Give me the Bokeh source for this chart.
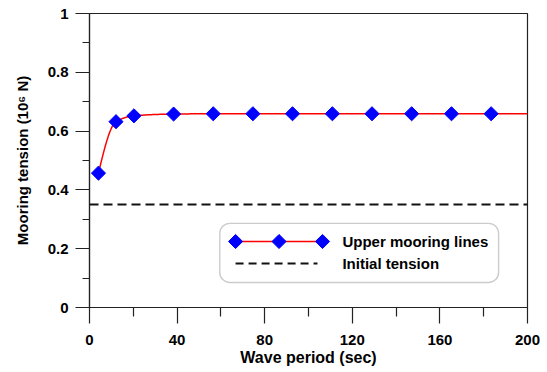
import numpy as np
from bokeh.plotting import figure
from bokeh.models import FixedTicker, BoxAnnotation, Label, Range1d, Span
from bokeh.embed import file_html
from bokeh.resources import INLINE

# Wave period (s) versus upper mooring line tension (10^6 N)
period = [4.1, 12.1, 20.3, 38.4, 56.5, 74.6, 92.7, 110.9, 129.0, 147.1, 165.3, 183.4]
tension = [0.457, 0.632, 0.652, 0.658, 0.659, 0.659, 0.659, 0.659, 0.659, 0.659, 0.659, 0.659]
initial_tension = 0.35

x_ticks = [0, 40, 80, 120, 160, 200]
x_minor = [20, 60, 100, 140, 180]
y_ticks = [0, 0.2, 0.4, 0.6, 0.8, 1.0]
y_minor = [0.1, 0.3, 0.5, 0.7, 0.9]
y_tick_labels = ["0", "0.2", "0.4", "0.6", "0.8", "1"]

FONT = "Liberation Sans"
RED = "#FF0000"
BLUE = "#0000FF"
INK = "#000000"


def monotone_curve(x, y, n=400):
    """Monotone cubic (Fritsch-Carlson) connector through the points."""
    x = np.asarray(x, float)
    y = np.asarray(y, float)
    h = np.diff(x)
    d = np.diff(y) / h
    m = np.zeros(len(x))
    for k in range(1, len(x) - 1):
        if d[k - 1] * d[k] > 0:
            w1 = 2 * h[k] + h[k - 1]
            w2 = h[k] + 2 * h[k - 1]
            m[k] = (w1 + w2) / (w1 / d[k - 1] + w2 / d[k])

    def end_slope(h0, h1, d0, d1):
        s = ((2 * h0 + h1) * d0 - h0 * d1) / (h0 + h1)
        if np.sign(s) != np.sign(d0):
            return 0.0
        if np.sign(d0) != np.sign(d1) and abs(s) > abs(3 * d0):
            return 3 * d0
        return s

    m[0] = end_slope(h[0], h[1], d[0], d[1])
    m[-1] = end_slope(h[-1], h[-2], d[-1], d[-2])

    xs = np.linspace(x[0], x[-1], n)
    idx = np.clip(np.searchsorted(x, xs) - 1, 0, len(x) - 2)
    t = (xs - x[idx]) / h[idx]
    h00 = 2 * t**3 - 3 * t**2 + 1
    h10 = t**3 - 2 * t**2 + t
    h01 = -2 * t**3 + 3 * t**2
    h11 = t**3 - t**2
    ys = h00 * y[idx] + h10 * h[idx] * m[idx] + h01 * y[idx + 1] + h11 * h[idx] * m[idx + 1]
    return xs, ys


p = figure(
    width=547, height=372,
    x_range=Range1d(0, 200), y_range=Range1d(0, 1),
    output_backend="svg", toolbar_location=None,
    min_border_left=89, min_border_right=20,
    min_border_top=13, min_border_bottom=65,
    background_fill_color="white", border_fill_color="white",
)
p.grid.visible = False
p.outline_line_color = "#222222"
p.outline_line_width = 1.2

# axes
for ax in (p.xaxis[0], p.yaxis[0]):
    ax.axis_line_color = "#222222"
    ax.axis_line_width = 1.2
    ax.major_tick_line_color = "#222222"
    ax.minor_tick_line_color = "#222222"
    ax.major_tick_line_width = 1.2
    ax.minor_tick_line_width = 1.2
    ax.major_tick_in = 0
    ax.minor_tick_in = 0
    ax.major_label_text_font = FONT
    ax.major_label_text_font_style = "bold"
    ax.major_label_text_font_size = "15px"
    ax.major_label_text_color = INK
    ax.axis_label_text_font = FONT
    ax.axis_label_text_font_style = "bold"
    ax.axis_label_text_color = INK

p.xaxis.ticker = FixedTicker(ticks=x_ticks, minor_ticks=x_minor)
p.xaxis.major_tick_out = 16
p.xaxis.minor_tick_out = 9
p.xaxis.major_label_standoff = 11
p.xaxis.axis_label = "Wave period (sec)"
p.xaxis.axis_label_text_font_size = "16px"
p.xaxis.axis_label_standoff = 1

p.yaxis.ticker = FixedTicker(ticks=y_ticks, minor_ticks=y_minor)
p.yaxis.major_label_overrides = {t: s for t, s in zip(y_ticks, y_tick_labels)}
p.yaxis.major_tick_out = 14
p.yaxis.minor_tick_out = 7
p.yaxis.major_label_standoff = 7
p.yaxis.axis_label = "Mooring tension (10\u2076 N)"
p.yaxis.axis_label_text_font_size = "15px"
p.yaxis.axis_label_standoff = 14

# initial tension reference
p.add_layout(Span(location=initial_tension, dimension="width",
                  line_color="#111111", line_width=2, line_dash="9 5"))

# smooth connector, continued flat to the end of the axis
cx, cy = monotone_curve(period, tension)
cx = np.append(cx, p.x_range.end)
cy = np.append(cy, tension[-1])
p.line(cx, cy, line_color=RED, line_width=1.5)
p.scatter(period, tension, marker="square", angle=np.pi / 4, size=10,
          fill_color=BLUE, line_color=BLUE)

# legend box
LEG_LEFT, LEG_RIGHT, LEG_TOP, LEG_BOTTOM = 59.5, 186.8, 0.286, 0.085
ROW1, ROW2 = 0.2245, 0.1497
SAMPLE_X0, SAMPLE_X1, TEXT_X = 66.7, 106.4, 115.5

p.add_layout(BoxAnnotation(left=LEG_LEFT, right=LEG_RIGHT, top=LEG_TOP, bottom=LEG_BOTTOM,
                           fill_color="white", fill_alpha=1.0,
                           line_color="#555555", line_width=1.4,
                           border_radius=10, level="underlay"))

sample_x = [SAMPLE_X0, (SAMPLE_X0 + SAMPLE_X1) / 2, SAMPLE_X1]
p.line(sample_x, [ROW1] * 3, line_color=RED, line_width=1.5)
p.scatter(sample_x, [ROW1] * 3, marker="square", angle=np.pi / 4, size=10,
          fill_color=BLUE, line_color=BLUE)
p.line([SAMPLE_X0, 104.1], [ROW2, ROW2], line_color="#111111", line_width=2, line_dash="8 5")

for row, txt in ((ROW1, "Upper mooring lines"), (ROW2, "Initial tension")):
    p.add_layout(Label(x=TEXT_X, y=row, text=txt, text_font=FONT,
                       text_font_style="bold", text_font_size="15px",
                       text_color=INK, text_baseline="middle"))

open("out.html", "w").write(file_html(p, INLINE))
